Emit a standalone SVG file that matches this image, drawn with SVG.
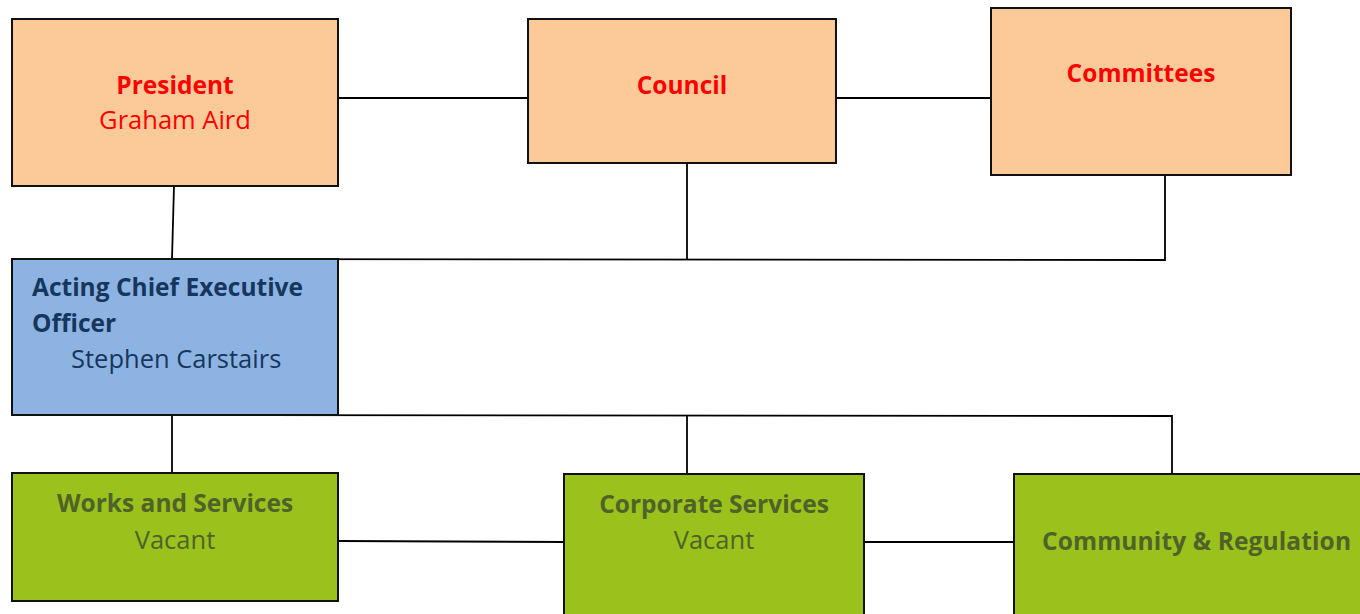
<svg xmlns="http://www.w3.org/2000/svg" width="1360" height="614" viewBox="0 0 1360 614">
  <style>
    .box { stroke: #111; stroke-width: 2; }
    .gov { fill: #FCCA98; }
    .ceo { fill: #8DB3E2; }
    .dept { fill: #9BC11D; }
    .link { stroke: #000; stroke-width: 1.8; fill: none; }
    text { font-family: "Open Sans", "Liberation Sans", sans-serif; font-size: 25.5px; }
    .b { font-weight: bold; font-size: 24.5px; }
    .red { fill: #FF0000; }
    .navy { fill: #17365D; }
    .olive { fill: #4F6228; }
  </style>
  <rect width="1360" height="614" fill="#fff"/>

  <!-- connectors -->
  <g id="connectors">
    <line class="link" x1="338" y1="98" x2="528" y2="98"/>
    <line class="link" x1="836" y1="98" x2="990" y2="98"/>
    <line class="link" x1="174" y1="186" x2="172" y2="259"/>
    <line class="link" x1="687" y1="163" x2="687" y2="259"/>
    <polyline class="link" points="12,259 1165,260 1165,175"/>
    <polyline class="link" points="12,415 1172,416 1172,474"/>
    <line class="link" x1="172" y1="415" x2="172" y2="473"/>
    <line class="link" x1="687" y1="416" x2="687" y2="474"/>
    <line class="link" x1="338" y1="541" x2="564" y2="542"/>
    <line class="link" x1="864" y1="542" x2="1014" y2="542"/>
  </g>

  <g id="president">
    <rect class="box gov" x="12" y="19" width="326" height="167"/>
    <text class="b red" x="175" y="94" text-anchor="middle">President</text>
    <text class="red" x="175" y="129" text-anchor="middle">Graham Aird</text>
  </g>

  <g id="council">
    <rect class="box gov" x="528" y="19" width="308" height="144"/>
    <text class="b red" x="682" y="94" text-anchor="middle">Council</text>
  </g>

  <g id="committees">
    <rect class="box gov" x="991" y="8" width="300" height="167"/>
    <text class="b red" x="1141" y="82" text-anchor="middle">Committees</text>
  </g>

  <g id="ceo">
    <rect class="box ceo" x="12" y="259" width="326" height="156"/>
    <text class="b navy" x="32" y="296">Acting Chief Executive</text>
    <text class="b navy" x="32" y="332">Officer</text>
    <text class="navy" x="71" y="368">Stephen Carstairs</text>
  </g>

  <g id="works">
    <rect class="box dept" x="12" y="473" width="326" height="128"/>
    <text class="b olive" x="175" y="512" text-anchor="middle">Works and Services</text>
    <text class="olive" x="175" y="549" text-anchor="middle">Vacant</text>
  </g>

  <g id="corporate">
    <rect class="box dept" x="564" y="474" width="300" height="150"/>
    <text class="b olive" x="714" y="513" text-anchor="middle">Corporate Services</text>
    <text class="olive" x="714" y="549" text-anchor="middle">Vacant</text>
  </g>

  <g id="community">
    <rect class="box dept" x="1014" y="474" width="360" height="150"/>
    <text class="b olive" x="1042" y="550" textLength="309">Community &amp; Regulation</text>
  </g>
</svg>
